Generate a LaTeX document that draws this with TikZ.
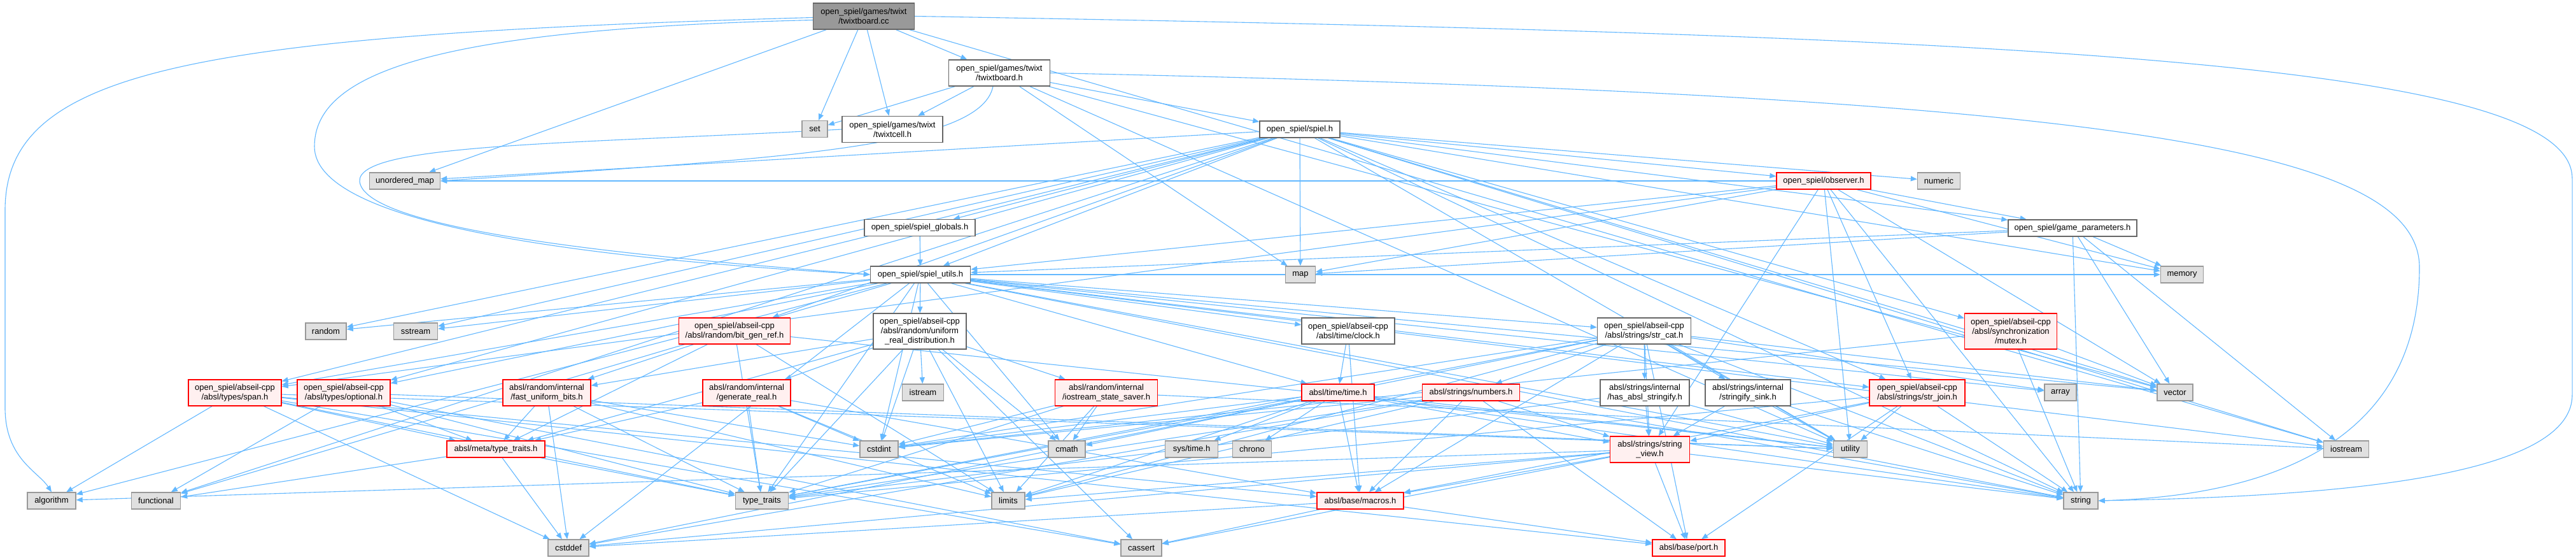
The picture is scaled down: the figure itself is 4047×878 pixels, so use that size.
\documentclass[tikz,border=0pt]{standalone}
\usepackage{fontspec}
\setmainfont{Liberation Sans}
\usetikzlibrary{arrows.meta,backgrounds}
\definecolor{dgblue}    {HTML}{63B8FF}
\definecolor{dgsysfill} {HTML}{E0E0E0}
\definecolor{dgsysline} {HTML}{999999}
\definecolor{dgline}    {HTML}{666666}
\definecolor{dgpink}    {HTML}{FFF0F0}
\definecolor{dgred}     {HTML}{FF0000}
\definecolor{dgroot}    {HTML}{999999}
\tikzset{
  dgnode/.style={draw=dgline, fill=white, line width=1.4pt, inner sep=2pt,
                 font=\fontsize{13}{15}\selectfont, align=center, minimum height=26},
  dgsys/.style={dgnode, draw=dgsysline, fill=dgsysfill},
  dgtrunc/.style={dgnode, draw=dgred, fill=dgpink},
  dgtop/.style={dgnode, fill=dgroot},
  lines2/.style={minimum height=41},
  lines3/.style={minimum height=56},
  dgedge/.style={-{Triangle[length=10pt,width=8pt]}, draw=dgblue, line width=1.1pt},
}

\begin{document}
\begin{tikzpicture}[x=1pt,y=-1pt]
  \useasboundingbox (0,0) rectangle (4047,878);
  % rows of the include graph, top to bottom
  \node[dgtop,lines2,minimum width=159] (root) at (1357,25.5) {open\_spiel/games/twixt\\/twixtboard.cc};
  \node[dgnode,lines2,minimum width=159] (tbh) at (1570,114.5) {open\_spiel/games/twixt\\/twixtboard.h};
  \node[dgsys,minimum width=40] (set) at (1280,202.5) {set};
  \node[dgnode,lines2,minimum width=158] (tcell) at (1402,203) {open\_spiel/games/twixt\\/twixtcell.h};
  \node[dgnode,minimum width=126] (spielh) at (2042,203) {open\_spiel/spiel.h};
  \node[dgsys,minimum width=111] (umap) at (636,284) {unordered\_map};
  \node[dgtrunc,minimum width=148] (observer) at (2865,284) {open\_spiel/observer.h};
  \node[dgsys,minimum width=67] (numeric) at (3046,284) {numeric};
  \node[dgnode,minimum width=174] (globals) at (1445,357.5) {open\_spiel/spiel\_globals.h};
  \node[dgnode,minimum width=202] (gparams) at (3256,358) {open\_spiel/game\_parameters.h};
  \node[dgnode,minimum width=157] (utils) at (1446,431) {open\_spiel/spiel\_utils.h};
  \node[dgsys,minimum width=47] (map) at (2043,431) {map};
  \node[dgsys,minimum width=67] (memory) at (3428,431) {memory};
  \node[dgsys,minimum width=64] (random) at (512,520) {random};
  \node[dgsys,minimum width=69] (sstream) at (653,520) {sstream};
  \node[dgtrunc,lines2,minimum width=175] (bitgen) at (1154,519.5) {open\_spiel/abseil-cpp\\/absl/random/bit\_gen\_ref.h};
  \node[dgnode,lines3,minimum width=146] (urd) at (1445,520) {open\_spiel/abseil-cpp\\/absl/random/uniform\\\_real\_distribution.h};
  \node[dgnode,lines2,minimum width=146] (clock) at (2118,519.5) {open\_spiel/abseil-cpp\\/absl/time/clock.h};
  \node[dgnode,lines2,minimum width=147] (strcat) at (2583,519.5) {open\_spiel/abseil-cpp\\/absl/strings/str\_cat.h};
  \node[dgtrunc,lines3,minimum width=145] (mutex) at (3159,520) {open\_spiel/abseil-cpp\\/absl/synchronization\\/mutex.h};
  \node[dgtrunc,lines2,minimum width=146] (span) at (369,616.5) {open\_spiel/abseil-cpp\\/absl/types/span.h};
  \node[dgtrunc,lines2,minimum width=146] (optional) at (540,616.5) {open\_spiel/abseil-cpp\\/absl/types/optional.h};
  \node[dgtrunc,lines2,minimum width=138] (fub) at (859,616.5) {absl/random/internal\\/fast\_uniform\_bits.h};
  \node[dgtrunc,lines2,minimum width=138] (genreal) at (1173,616.5) {absl/random/internal\\/generate\_real.h};
  \node[dgsys,minimum width=65] (istream) at (1450,616) {istream};
  \node[dgtrunc,lines2,minimum width=161] (iss) at (1738,616.5) {absl/random/internal\\/iostream\_state\_saver.h};
  \node[dgtrunc,minimum width=114] (timeh) at (2102,616) {absl/time/time.h};
  \node[dgtrunc,minimum width=153] (numbers) at (2311,616) {absl/strings/numbers.h};
  \node[dgnode,lines2,minimum width=140] (hasstr) at (2584,616.5) {absl/strings/internal\\/has\_absl\_stringify.h};
  \node[dgnode,lines2,minimum width=134] (sink) at (2746,616.5) {absl/strings/internal\\/stringify\_sink.h};
  \node[dgtrunc,lines2,minimum width=150] (strjoin) at (3012,616.5) {open\_spiel/abseil-cpp\\/absl/strings/str\_join.h};
  \node[dgsys,minimum width=50] (array) at (3237,616) {array};
  \node[dgsys,minimum width=56] (vector) at (3417,616) {vector};
  \node[dgtrunc,minimum width=154] (metatt) at (779,705) {absl/meta/type\_traits.h};
  \node[dgsys,minimum width=60] (cstdint) at (1381,705) {cstdint};
  \node[dgsys,minimum width=58] (cmath) at (1676,705) {cmath};
  \node[dgsys,minimum width=83] (systime) at (1872,705) {sys/time.h};
  \node[dgsys,minimum width=61] (chrono) at (1967,705) {chrono};
  \node[dgtrunc,lines2,minimum width=125] (strview) at (2592,705.5) {absl/strings/string\\\_view.h};
  \node[dgsys,minimum width=53] (utility) at (2907,705) {utility};
  \node[dgsys,minimum width=71] (iostream) at (3686,705) {iostream};
  \node[dgsys,minimum width=76] (algorithm) at (81,786) {algorithm};
  \node[dgsys,minimum width=77] (functional) at (245,786) {functional};
  \node[dgsys,minimum width=83] (typetraits) at (1197,786) {type\_traits};
  \node[dgsys,minimum width=52] (limits) at (1584,786) {limits};
  \node[dgtrunc,minimum width=136] (macros) at (2137,786) {absl/base/macros.h};
  \node[dgsys,minimum width=54] (string) at (3269,786) {string};
  \node[dgsys,minimum width=64] (cstddef) at (893,860) {cstddef};
  \node[dgsys,minimum width=64] (cassert) at (1793,860) {cassert};
  \node[dgtrunc,minimum width=114] (port) at (2653,860) {absl/base/port.h};

  \begin{scope}[on background layer]
    \fill[white] (0,0) rectangle (4047,878);
    % twixtboard.cc
    \foreach \t in {tbh,set,tcell,umap,iostream}
      \draw[dgedge] (root) -- (\t);
    \draw[dgedge] ([yshift=-2pt]root.west) .. controls (300,55) and (8,110) .. (8,330)
      -- (8,640) .. controls (8,720) and (60,740) .. (algorithm.north);
    \draw[dgedge] ([yshift=-6pt]root.west) .. controls (700,45) and (494,110) .. (494,230)
      .. controls (494,350) and (900,405) .. (utils.west);
    \draw[dgedge] (root.east) .. controls (3200,55) and (4041,100) .. (4041,280)
      -- (4041,620) .. controls (4041,760) and (3600,780) .. (string.east);
    % twixtboard.h and twixtcell.h
    \foreach \t in {set,tcell,spielh,map,vector,utility}
      \draw[dgedge] (tbh) -- (\t);
    \draw[dgedge] ([xshift=-10pt]tbh.south) .. controls (1540,235) and (1200,250) .. (umap.east);
    \draw[dgedge] (tbh.east) .. controls (3300,150) and (3801,230) .. (3801,420)
      .. controls (3801,730) and (3500,780) .. (string.east);
    \draw[dgedge] (tcell.west) .. controls (900,226) and (560,225) .. (565,285)
      .. controls (575,370) and (1100,410) .. (utils.west);
    % spiel.h
    \foreach \t in {umap,map,observer,numeric,gparams,memory,globals,utils,bitgen,random,
                    sstream,functional,span,optional,mutex,strjoin,string,vector,utility,iostream}
      \draw[dgedge] (spielh) -- (\t);
    % observer.h, game_parameters.h, spiel_globals.h
    \foreach \t in {gparams,utils,map,umap,memory,string,vector,utility,strview,strjoin,span}
      \draw[dgedge] (observer) -- (\t);
    \foreach \t in {utils,map,memory,string,vector,iostream}
      \draw[dgedge] (gparams) -- (\t);
    \draw[dgedge] (globals) -- (utils);
    % spiel_utils.h
    \foreach \t in {urd,cstdint,cstddef,span,optional,algorithm,functional,random,sstream,clock,
                    timeh,strcat,strjoin,string,vector,array,memory,iostream,utility,typetraits,cmath}
      \draw[dgedge] (utils) -- (\t);
    % abseil random
    \foreach \t in {istream,cstdint,genreal,iss,fub,metatt,cmath,limits,cassert,typetraits}
      \draw[dgedge] (urd) -- (\t);
    \foreach \t in {fub,metatt,typetraits,limits,utility}
      \draw[dgedge] (bitgen) -- (\t);
    \foreach \t in {cstdint,typetraits,limits,metatt,macros}
      \draw[dgedge] (genreal) -- (\t);
    \foreach \t in {cmath,limits,typetraits,iostream,cstdint}
      \draw[dgedge] (iss) -- (\t);
    \foreach \t in {metatt,cstddef,cstdint,limits,typetraits}
      \draw[dgedge] (fub) -- (\t);
    \foreach \t in {cstddef,typetraits,functional}
      \draw[dgedge] (metatt) -- (\t);
    % abseil types
    \foreach \t in {algorithm,cassert,cstddef,typetraits,utility,metatt,macros,port}
      \draw[dgedge] (span) -- (\t);
    \foreach \t in {functional,metatt,typetraits,utility,cassert}
      \draw[dgedge] (optional) -- (\t);
    % abseil time
    \foreach \t in {timeh,macros}
      \draw[dgedge] (clock) -- (\t);
    \foreach \t in {chrono,cmath,cstdint,limits,string,typetraits,utility,systime,macros,strview}
      \draw[dgedge] (timeh) -- (\t);
    % abseil strings
    \foreach \t in {cstddef,cstdint,limits,string,typetraits,macros,port,strview}
      \draw[dgedge] (numbers) -- (\t);
    \foreach \t in {numbers,hasstr,sink,strview,macros,port,utility,string,vector,array,
                    cstddef,cstdint,typetraits,limits}
      \draw[dgedge] (strcat) -- (\t);
    \foreach \t in {strview,typetraits,utility}
      \draw[dgedge] (hasstr) -- (\t);
    \foreach \t in {strview,string,utility}
      \draw[dgedge] (sink) -- (\t);
    \foreach \t in {strview,macros,string,utility,typetraits,port}
      \draw[dgedge] (strjoin) -- (\t);
    \foreach \t in {algorithm,cassert,cstddef,limits,string,macros,port}
      \draw[dgedge] (strview) -- (\t);
    % abseil base and synchronization
    \foreach \t in {cassert,cstddef,port}
      \draw[dgedge] (macros) -- (\t);
    \foreach \t in {cstdint,string,vector}
      \draw[dgedge] (mutex) -- (\t);
  \end{scope}
\end{tikzpicture}
\end{document}
